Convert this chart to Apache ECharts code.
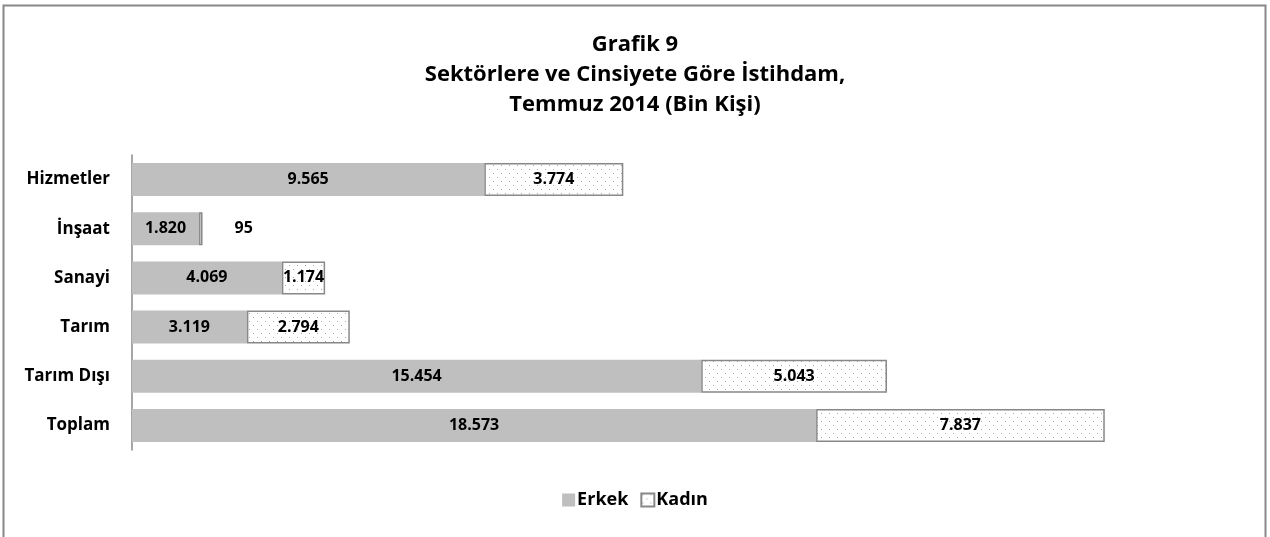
<!DOCTYPE html>
<html>
<head>
<meta charset="utf-8">
<script src="https://cdn.jsdelivr.net/npm/echarts@6/dist/echarts.min.js"></script>
<style>
  html, body { margin: 0; padding: 0; background: #fff; }
  #chart { width: 1270px; height: 537px; }
</style>
</head>
<body>
<div id="chart"></div>
<script>
const categories = ['Hizmetler', 'İnşaat', 'Sanayi', 'Tarım', 'Tarım Dışı', 'Toplam']
const erkek = [9565, 1820, 4069, 3119, 15454, 18573]
const kadin = [3774, 95, 1174, 2794, 5043, 7837]
const titleLines = ['Grafik 9', 'Sektörlere ve Cinsiyete Göre İstihdam,', 'Temmuz 2014 (Bin Kişi)']

const FONT = '"Open Sans", "DejaVu Sans", sans-serif'

// dotted fill for Kadın
const makeDots = () => {
  const c = document.createElement('canvas')
  c.width = 8
  c.height = 8
  const ctx = c.getContext('2d')
  ctx.fillStyle = '#ffffff'
  ctx.fillRect(0, 0, 8, 8)
  ctx.fillStyle = '#a8a8a8'
  ctx.fillRect(1, 1, 1, 1)
  ctx.fillRect(5, 5, 1, 1)
  return c
}
const dots = { image: makeDots(), repeat: 'repeat' }

const fmt = v => String(v).replace(/\B(?=(\d{3})+(?!\d))/g, '.')

const chart = echarts.init(document.getElementById('chart'))
chart.setOption({
  animation: false,
  backgroundColor: '#fff',
  textStyle: { fontFamily: FONT },
  title: {
    text: titleLines.join('\n'),
    left: 'center',
    top: 25,
    textStyle: { fontFamily: FONT, fontSize: 22, fontWeight: 'bold', color: '#000', lineHeight: 30 }
  },
  graphic: [{
    type: 'rect',
    shape: { x: 3.5, y: 5.5, width: 1262, height: 540 },
    style: { fill: 'none', stroke: '#888', lineWidth: 2 },
    silent: true
  }],
  legend: {
    bottom: 23,
    left: 'center',
    icon: 'rect',
    itemWidth: 13,
    itemHeight: 13,
    itemGap: 12,
    textStyle: { fontFamily: FONT, fontSize: 18, fontWeight: 'bold', color: '#000', padding: [0, 0, 0, -3] },
    data: ['Erkek', 'Kadın']
  },
  grid: { left: 132, top: 155, width: 1105, height: 295, containLabel: false },
  xAxis: {
    type: 'value',
    min: 0,
    max: 30000,
    show: false,
    splitLine: { show: false }
  },
  yAxis: {
    type: 'category',
    inverse: true,
    data: categories,
    axisLine: { lineStyle: { color: '#888', width: 1.5 } },
    axisTick: { show: false },
    axisLabel: { fontFamily: FONT, fontSize: 17, fontWeight: 'bold', color: '#000', margin: 22 }
  },
  series: [
    {
      name: 'Erkek',
      type: 'bar',
      stack: 'total',
      barWidth: 33,
      data: erkek,
      itemStyle: { color: '#bfbfbf' },
      label: {
        show: true,
        position: 'inside',
        formatter: p => fmt(p.value),
        fontFamily: FONT, fontSize: 16, fontWeight: 'bold', color: '#000'
      }
    },
    {
      name: 'Kadın',
      type: 'bar',
      stack: 'total',
      barWidth: 33,
      data: kadin.map((v, i) => i === 1
        ? { value: v, label: { position: 'right', distance: 32 } }
        : v),
      itemStyle: { color: dots, borderColor: '#888', borderWidth: 1.5 },
      label: {
        show: true,
        position: 'inside',
        formatter: p => fmt(p.value),
        fontFamily: FONT, fontSize: 16, fontWeight: 'bold', color: '#000'
      }
    }
  ]
})
window.addEventListener('resize', () => chart.resize())
</script>
</body>
</html>
